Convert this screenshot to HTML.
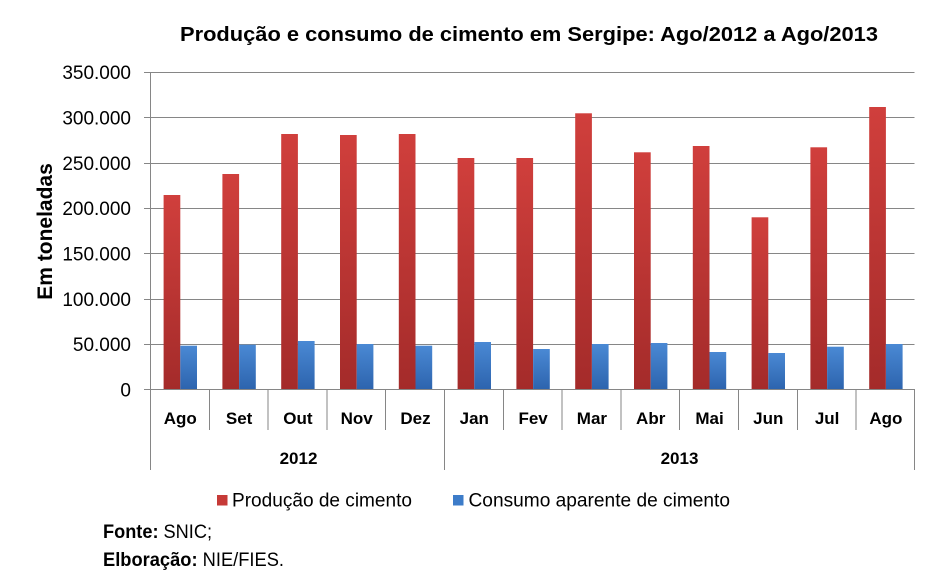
<!DOCTYPE html>
<html><head><meta charset="utf-8"><style>
html,body{margin:0;padding:0;background:#fff;}
svg{display:block;font-family:"Liberation Sans",Arial,sans-serif;}
</style></head><body>
<svg width="938" height="582" viewBox="0 0 938 582" xmlns="http://www.w3.org/2000/svg">
<defs>
<linearGradient id="gr" x1="0" y1="0" x2="0" y2="1"><stop offset="0" stop-color="#d03f3c"/><stop offset="1" stop-color="#a42b2a"/></linearGradient>
<linearGradient id="gb" x1="0" y1="0" x2="0" y2="1"><stop offset="0" stop-color="#4a89d4"/><stop offset="1" stop-color="#2d64ae"/></linearGradient>
</defs>
<text x="180" y="41" font-size="20" font-weight="bold" textLength="698" lengthAdjust="spacingAndGlyphs" fill="#000">Produção  e consumo  de cimento em Sergipe: Ago/2012 a Ago/2013</text>
<g stroke="#868686" stroke-width="1" shape-rendering="crispEdges">
<line x1="144" y1="72.5" x2="914.5" y2="72.5"/>
<line x1="144" y1="117.5" x2="914.5" y2="117.5"/>
<line x1="144" y1="163.5" x2="914.5" y2="163.5"/>
<line x1="144" y1="208.5" x2="914.5" y2="208.5"/>
<line x1="144" y1="253.5" x2="914.5" y2="253.5"/>
<line x1="144" y1="299.5" x2="914.5" y2="299.5"/>
<line x1="144" y1="344.5" x2="914.5" y2="344.5"/>
</g>
<g id="bars">
<rect x="163.6" y="195" width="16.7" height="194" fill="url(#gr)"/><rect x="180.3" y="345.7" width="16.7" height="43.3" fill="url(#gb)"/>
<rect x="222.4" y="174" width="16.7" height="215" fill="url(#gr)"/><rect x="239.1" y="344.7" width="16.7" height="44.3" fill="url(#gb)"/>
<rect x="281.2" y="134" width="16.7" height="255" fill="url(#gr)"/><rect x="297.9" y="341" width="16.7" height="48" fill="url(#gb)"/>
<rect x="340" y="135" width="16.7" height="254" fill="url(#gr)"/><rect x="356.7" y="344" width="16.7" height="45" fill="url(#gb)"/>
<rect x="398.8" y="134" width="16.7" height="255" fill="url(#gr)"/><rect x="415.5" y="345.7" width="16.7" height="43.3" fill="url(#gb)"/>
<rect x="457.6" y="158" width="16.7" height="231" fill="url(#gr)"/><rect x="474.3" y="342" width="16.7" height="47" fill="url(#gb)"/>
<rect x="516.4" y="158" width="16.7" height="231" fill="url(#gr)"/><rect x="533.1" y="349" width="16.7" height="40" fill="url(#gb)"/>
<rect x="575.2" y="113.3" width="16.7" height="275.7" fill="url(#gr)"/><rect x="591.9" y="344" width="16.7" height="45" fill="url(#gb)"/>
<rect x="634" y="152.3" width="16.7" height="236.7" fill="url(#gr)"/><rect x="650.7" y="343" width="16.7" height="46" fill="url(#gb)"/>
<rect x="692.8" y="146" width="16.7" height="243" fill="url(#gr)"/><rect x="709.5" y="352" width="16.7" height="37" fill="url(#gb)"/>
<rect x="751.6" y="217.3" width="16.7" height="171.7" fill="url(#gr)"/><rect x="768.3" y="353" width="16.7" height="36" fill="url(#gb)"/>
<rect x="810.4" y="147.3" width="16.7" height="241.7" fill="url(#gr)"/><rect x="827.1" y="346.7" width="16.7" height="42.3" fill="url(#gb)"/>
<rect x="869.2" y="107" width="16.7" height="282" fill="url(#gr)"/><rect x="885.9" y="344" width="16.7" height="45" fill="url(#gb)"/>
</g>
<g stroke="#868686" stroke-width="1" shape-rendering="crispEdges">
<line x1="150.5" y1="72" x2="150.5" y2="470"/>
<line x1="144" y1="389.5" x2="914.5" y2="389.5"/>
<line x1="209.3" y1="389" x2="209.3" y2="430"/>
<line x1="268.1" y1="389" x2="268.1" y2="430"/>
<line x1="326.9" y1="389" x2="326.9" y2="430"/>
<line x1="385.7" y1="389" x2="385.7" y2="430"/>
<line x1="444.5" y1="389" x2="444.5" y2="470"/>
<line x1="503.3" y1="389" x2="503.3" y2="430"/>
<line x1="562.1" y1="389" x2="562.1" y2="430"/>
<line x1="620.9" y1="389" x2="620.9" y2="430"/>
<line x1="679.7" y1="389" x2="679.7" y2="430"/>
<line x1="738.5" y1="389" x2="738.5" y2="430"/>
<line x1="797.3" y1="389" x2="797.3" y2="430"/>
<line x1="856.1" y1="389" x2="856.1" y2="430"/>
<line x1="914.5" y1="389" x2="914.5" y2="470"/>
</g>
<g font-size="19" fill="#000" text-anchor="end">
<text x="131" y="79">350.000</text>
<text x="131" y="124.5">300.000</text>
<text x="131" y="170">250.000</text>
<text x="131" y="215">200.000</text>
<text x="131" y="260.5">150.000</text>
<text x="131" y="306">100.000</text>
<text x="131" y="351">50.000</text>
<text x="131" y="396.5">0</text>
</g>
<text transform="translate(52,231.5) rotate(-90)" font-size="21" font-weight="bold" text-anchor="middle" fill="#000">Em toneladas</text>
<g font-size="17" font-weight="bold" fill="#000" text-anchor="middle">
<text x="180.3" y="424">Ago</text>
<text x="239.1" y="424">Set</text>
<text x="297.9" y="424">Out</text>
<text x="356.7" y="424">Nov</text>
<text x="415.5" y="424">Dez</text>
<text x="474.3" y="424">Jan</text>
<text x="533.1" y="424">Fev</text>
<text x="591.9" y="424">Mar</text>
<text x="650.7" y="424">Abr</text>
<text x="709.5" y="424">Mai</text>
<text x="768.3" y="424">Jun</text>
<text x="827.1" y="424">Jul</text>
<text x="885.9" y="424">Ago</text>
<text x="298.5" y="464">2012</text>
<text x="679.5" y="464">2013</text>
</g>
<rect x="217" y="495" width="10.5" height="10.5" fill="#c63a37"/>
<text x="232" y="506.5" font-size="19" fill="#000" textLength="180" lengthAdjust="spacingAndGlyphs">Produção de cimento</text>
<rect x="453" y="495" width="10.5" height="10.5" fill="#3d7cc9"/>
<text x="468.5" y="506.5" font-size="19" fill="#000" textLength="261.5" lengthAdjust="spacingAndGlyphs">Consumo aparente de cimento</text>
<text x="103" y="538" font-size="19" fill="#000" textLength="109" lengthAdjust="spacingAndGlyphs"><tspan font-weight="bold">Fonte:</tspan> SNIC;</text>
<text x="103" y="566" font-size="19" fill="#000" textLength="181" lengthAdjust="spacingAndGlyphs"><tspan font-weight="bold">Elboração:</tspan> NIE/FIES.</text>
</svg>
</body></html>
